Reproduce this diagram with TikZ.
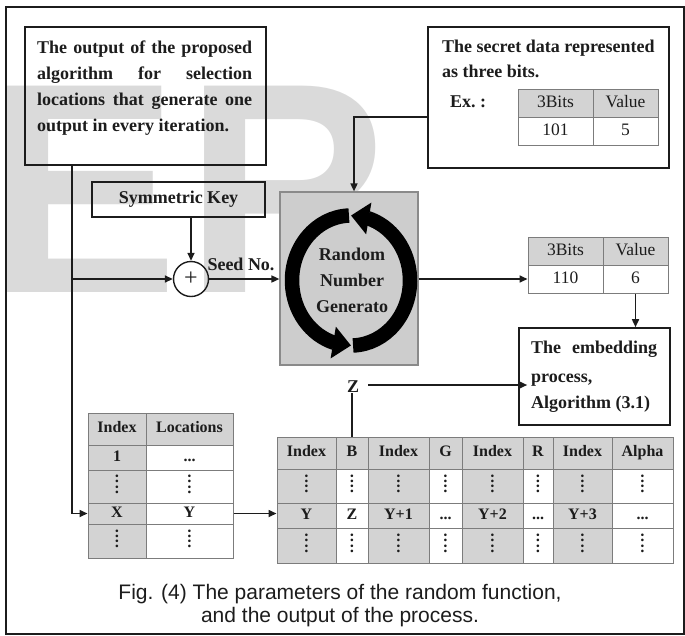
\documentclass[tikz,border=0pt]{standalone}
\usepackage{fontspec}
\setmainfont{Liberation Serif}
\newfontfamily\capfont{Liberation Sans}
\usetikzlibrary{arrows.meta,bending}

\definecolor{ink}{HTML}{1C1C1C}
\definecolor{cellgray}{HTML}{D3D3D3}
\definecolor{rulegray}{HTML}{7C7C7C}
\definecolor{rnggray}{HTML}{CDCDCD}
\definecolor{rngedge}{HTML}{8A8A8A}
\definecolor{markgray}{HTML}{DADADA}

\tikzset{
  boxline/.style={draw=ink, line width=1.6pt, inner sep=0pt},
  conn/.style={draw=ink, line width=1.6pt},
  arrowed/.style={-{Triangle[length=8pt,width=7pt]}},
  body/.style={text=ink, inner sep=0pt, font=\bfseries\fontsize{18}{26}\selectfont},
  cellbox/.style={draw=rulegray, line width=1pt, inner sep=0pt, text=ink,
                  text height=11pt, text depth=3.5pt,
                  font=\bfseries\fontsize{16}{16}\selectfont},
  bitcell/.style={font=\fontsize{17.5}{17.5}\selectfont, text height=12pt, text depth=4pt},
  ringarrow/.style={draw=black, line width=14.5pt,
                    -{Triangle[length=18pt,width=31pt]}},
}

% one table cell: [style]{name}{x1}{y1}{x2}{y2}{fill}{text}
\newcommand\tcell[8][]{\node[cellbox,#1,fill=#7,minimum width={(#5)-(#3)},
  minimum height={(#6)-(#4)}] (#2) at ({((#3)+(#5))/2},{((#4)+(#6))/2}) {#8};}
% two colons stacked, used for the elided rows
\newcommand\dd{{\def\arraystretch{0.65}\begin{tabular}{@{}c@{}}:\\:\end{tabular}}}

\begin{document}
\begin{tikzpicture}[x=1pt,y=-1pt]
\useasboundingbox (0,0) rectangle (685,635);

% faint watermark letters behind the figure
\node[anchor=base west, inner sep=0pt, text=markgray,
      font=\capfont\bfseries\fontsize{300}{300}\selectfont] (mark) at (-12,292)
      {\scalebox{0.95}[1]{E\kern8pt R}};

% outer frame
\draw[draw=ink, line width=1.6pt] (6,7) rectangle (684,634);

% ---- location-selection output box
\node[boxline, minimum width=241pt, minimum height=138pt] (algo) at (145.5,96) {};
\node[body, anchor=base west] (algo1) at (37,53) {\makebox[215pt][s]{The output of the proposed}};
\node[body, anchor=base west] (algo2) at (37,79) {\makebox[215pt][s]{algorithm for selection}};
\node[body, anchor=base west] (algo3) at (37,105) {\makebox[215pt][s]{locations that generate one}};
\node[body, anchor=base west] (algo4) at (37,131) {output in every iteration.};

% ---- symmetric key and the combining node
\node[boxline, body, minimum width=173pt, minimum height=35pt] (symkey) at (178.5,199.5) {Symmetric Key};
\node[draw=ink, line width=1.4pt, circle, minimum size=35pt, inner sep=0pt,
      text=ink, font=\fontsize{24}{24}\selectfont] (plus) at (191,279) {+};
\node[body] (seed) at (241,264) {Seed No.};

% ---- secret data box
\node[boxline, minimum width=241pt, minimum height=141pt] (secret) at (548.5,97.5) {};
\node[body, anchor=base west] (secret1) at (442,52) {The secret data represented};
\node[body, anchor=base west] (secret2) at (442,77) {as three bits.};
\node[body, anchor=base west] (exlabel) at (450,107) {Ex.\ :};
\tcell[bitcell]{sbh1}{518}{89}{593}{117}{cellgray}{3Bits}
\tcell[bitcell]{sbh2}{593}{89}{658}{117}{cellgray}{Value}
\tcell[bitcell]{sbd1}{518}{117}{593}{145}{white}{101}
\tcell[bitcell]{sbd2}{593}{117}{658}{145}{white}{5}

% ---- random number generator
\node[draw=rngedge, fill=rnggray, line width=1.2pt, minimum width=138pt,
      minimum height=173pt] (rng) at (349,278.5) {};
\coordinate (hub) at (351,280.5);
\draw[ringarrow] (hub) ++(88:59 and 65) arc[start angle=88, end angle=-90, x radius=59, y radius=65];
\draw[ringarrow] (hub) ++(268:59 and 65) arc[start angle=268, end angle=90, x radius=59, y radius=65];
\node[body] (rng1) at (352,254) {Random};
\node[body] (rng2) at (352,280) {Number};
\node[body] (rng3) at (352,307) {Generato};

% ---- generated bits
\tcell[bitcell]{obh1}{528}{237}{603}{265}{cellgray}{3Bits}
\tcell[bitcell]{obh2}{603}{237}{668}{265}{cellgray}{Value}
\tcell[bitcell]{outbits}{528}{265}{603}{293}{white}{110}
\tcell[bitcell]{outval}{603}{265}{668}{293}{white}{6}

% ---- embedding process box
\node[boxline, minimum width=151pt, minimum height=97pt] (embed) at (594.5,376.5) {};
\node[body, anchor=base west] (embed1) at (531,353) {\makebox[126pt][s]{The embedding}};
\node[body, anchor=base west] (embed2) at (531,382) {process,};
\node[body, anchor=base west] (embed3) at (531,408) {Algorithm (3.1)};

\node[body] (zlab) at (353,387) {Z};

% ---- index / locations table
\tcell{lh1}{88}{413}{146}{445}{cellgray}{Index}
\tcell{lh2}{146}{413}{233}{445}{cellgray}{Locations}
\tcell{la1}{88}{445}{146}{470}{cellgray}{1}
\tcell{la2}{146}{445}{233}{470}{white}{...}
\tcell{lb1}{88}{470}{146}{503}{cellgray}{\dd}
\tcell{lb2}{146}{470}{233}{503}{white}{\dd}
\tcell{locX}{88}{503}{146}{524}{cellgray}{X}
\tcell{locY}{146}{503}{233}{524}{white}{Y}
\tcell{lc1}{88}{524}{146}{558}{cellgray}{\dd}
\tcell{lc2}{146}{524}{233}{558}{white}{\dd}

% ---- pixel channel table
\tcell{rh1}{277}{437}{336}{469}{cellgray}{Index}
\tcell{hB}{336}{437}{368}{469}{cellgray}{B}
\tcell{rh3}{368}{437}{429}{469}{cellgray}{Index}
\tcell{rh4}{429}{437}{462}{469}{cellgray}{G}
\tcell{rh5}{462}{437}{523}{469}{cellgray}{Index}
\tcell{rh6}{523}{437}{553}{469}{cellgray}{R}
\tcell{rh7}{553}{437}{612}{469}{cellgray}{Index}
\tcell{rh8}{612}{437}{673}{469}{cellgray}{Alpha}

\tcell{ra1}{277}{469}{336}{503}{cellgray}{\dd}
\tcell{ra2}{336}{469}{368}{503}{white}{\dd}
\tcell{ra3}{368}{469}{429}{503}{cellgray}{\dd}
\tcell{ra4}{429}{469}{462}{503}{white}{\dd}
\tcell{ra5}{462}{469}{523}{503}{cellgray}{\dd}
\tcell{ra6}{523}{469}{553}{503}{white}{\dd}
\tcell{ra7}{553}{469}{612}{503}{cellgray}{\dd}
\tcell{ra8}{612}{469}{673}{503}{white}{\dd}

\tcell{rY}{277}{503}{336}{528}{cellgray}{Y}
\tcell{rZ}{336}{503}{368}{528}{white}{Z}
\tcell{rb3}{368}{503}{429}{528}{cellgray}{Y+1}
\tcell{rb4}{429}{503}{462}{528}{white}{...}
\tcell{rb5}{462}{503}{523}{528}{cellgray}{Y+2}
\tcell{rb6}{523}{503}{553}{528}{white}{...}
\tcell{rb7}{553}{503}{612}{528}{cellgray}{Y+3}
\tcell{rb8}{612}{503}{673}{528}{white}{...}

\tcell{rc1}{277}{528}{336}{563}{cellgray}{\dd}
\tcell{rc2}{336}{528}{368}{563}{white}{\dd}
\tcell{rc3}{368}{528}{429}{563}{cellgray}{\dd}
\tcell{rc4}{429}{528}{462}{563}{white}{\dd}
\tcell{rc5}{462}{528}{523}{563}{cellgray}{\dd}
\tcell{rc6}{523}{528}{553}{563}{white}{\dd}
\tcell{rc7}{553}{528}{612}{563}{cellgray}{\dd}
\tcell{rc8}{612}{528}{673}{563}{white}{\dd}

% ---- connectors
\coordinate (trunk) at (72,279);
\draw[conn, arrowed] (algo.south -| trunk) -- (trunk |- locX) -- (locX.west);
\draw[conn, arrowed] (trunk) -- (plus.west);
\draw[conn, arrowed] (symkey.south -| plus) -- (plus.north);
\draw[conn, arrowed] (plus.east) -- (plus.east -| rng.west);
\coordinate (drop) at (354,117);
\draw[conn, arrowed] (secret.west |- drop) -- (drop) -- (drop |- rng.north);
\draw[conn, arrowed] (outbits.west -| rng.east) -- (outbits.west);
\draw[conn, arrowed] (outval.south) -- (outval.south |- embed.north);
\draw[conn] (hB.north) -- (hB.north |- zlab.south);
\draw[conn, arrowed] ([xshift=9pt,yshift=2pt]zlab.east) -- ([xshift=9pt,yshift=2pt]zlab.east -| embed.west);
\draw[conn, arrowed] (locY.east) -- (locY.east -| rY.west);

% ---- caption
\node[inner sep=0pt, text=ink, align=center, font=\capfont\fontsize{21}{23}\selectfont]
  (caption) at (340,606) {Fig. (4) The parameters of the random function,\\and the output of the process.};
\end{tikzpicture}
\end{document}
